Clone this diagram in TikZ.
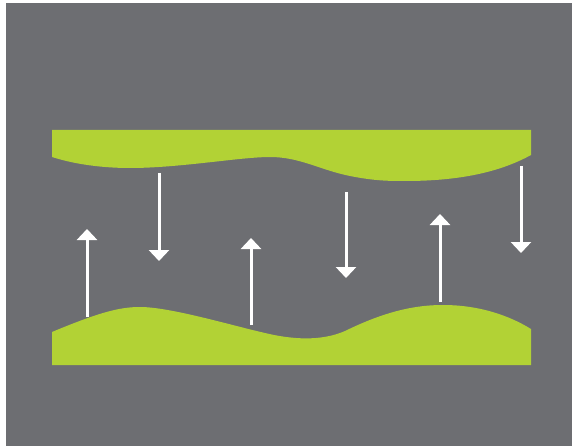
\documentclass[tikz,border=0pt]{standalone}
\usetikzlibrary{arrows.meta}
\definecolor{bggray}{HTML}{6D6E72}
\definecolor{lime}{HTML}{B2D235}
\begin{document}
\begin{tikzpicture}[x=1pt,y=-1pt,
  flow/.style={draw=white,line width=3pt,-{Triangle[width=20pt,length=11pt]}}]
\useasboundingbox (0,0) rectangle (572,446);
\fill[white] (0,0) rectangle (572,446);
\fill[bggray] (6,3) rectangle (572,446);
% top plate
\fill[lime] (52,130) -- (531,130) -- (531,155)
  .. controls (500,172) and (460,181) .. (405,181)
  .. controls (390,181) and (375,181) .. (350,176)
  .. controls (320,170) and (300,157) .. (270,157)
  .. controls (240,157) and (180,168) .. (130,168)
  .. controls (110,168) and (80,166) .. (52,157) -- cycle;
% bottom plate
\fill[lime] (52,365) -- (52,332)
  .. controls (100,312) and (120,307) .. (140,307)
  .. controls (170,307) and (230,325) .. (265,333)
  .. controls (290,339) and (320,342) .. (345,331)
  .. controls (380,314) and (410,305) .. (443,305)
  .. controls (480,305) and (510,316) .. (531,329)
  -- (531,365) -- cycle;
% arrows
\coordinate (u1s) at (87,317); \coordinate (u1e) at (87,229);
\coordinate (u2s) at (251,325); \coordinate (u2e) at (251,238);
\coordinate (u3s) at (440,302); \coordinate (u3e) at (440,214);
\coordinate (d1s) at (159,173); \coordinate (d1e) at (159,261);
\coordinate (d2s) at (346,192); \coordinate (d2e) at (346,278);
\coordinate (d3s) at (521,166); \coordinate (d3e) at (521,253);
\draw[flow] (u1s) -- (u1e);
\draw[flow] (u2s) -- (u2e);
\draw[flow] (u3s) -- (u3e);
\draw[flow] (d1s) -- (d1e);
\draw[flow] (d2s) -- (d2e);
\draw[flow] (d3s) -- (d3e);
\end{tikzpicture}
\end{document}
